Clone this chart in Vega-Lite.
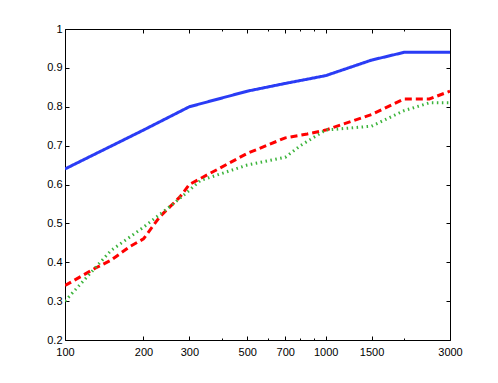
{
  "$schema": "https://vega.github.io/schema/vega-lite/v6.json",
  "width": 385,
  "height": 311,
  "autosize": "none",
  "padding": {"left": 65, "top": 29, "right": 48, "bottom": 43},
  "background": "white",
  "config": {"view": {"stroke": null}, "font": "Liberation Sans"},
  "data": {"values": [
    {"x": 100, "y": 0.64, "s": "A"}, {"x": 200, "y": 0.74, "s": "A"}, {"x": 300, "y": 0.80, "s": "A"},
    {"x": 500, "y": 0.84, "s": "A"}, {"x": 700, "y": 0.86, "s": "A"}, {"x": 1000, "y": 0.88, "s": "A"},
    {"x": 1500, "y": 0.92, "s": "A"}, {"x": 2000, "y": 0.94, "s": "A"}, {"x": 3000, "y": 0.94, "s": "A"},
    {"x": 100, "y": 0.34, "s": "B"}, {"x": 130, "y": 0.384, "s": "B"}, {"x": 150, "y": 0.405, "s": "B"},
    {"x": 177, "y": 0.44, "s": "B"}, {"x": 200, "y": 0.46, "s": "B"}, {"x": 231, "y": 0.517, "s": "B"},
    {"x": 276, "y": 0.568, "s": "B"}, {"x": 300, "y": 0.60, "s": "B"}, {"x": 500, "y": 0.68, "s": "B"},
    {"x": 700, "y": 0.72, "s": "B"}, {"x": 850, "y": 0.73, "s": "B"}, {"x": 1000, "y": 0.74, "s": "B"},
    {"x": 1500, "y": 0.78, "s": "B"}, {"x": 2000, "y": 0.82, "s": "B"}, {"x": 2500, "y": 0.82, "s": "B"},
    {"x": 3000, "y": 0.84, "s": "B"},
    {"x": 100, "y": 0.30, "s": "C"}, {"x": 150, "y": 0.43, "s": "C"}, {"x": 200, "y": 0.49, "s": "C"},
    {"x": 260, "y": 0.55, "s": "C"}, {"x": 300, "y": 0.585, "s": "C"}, {"x": 330, "y": 0.61, "s": "C"},
    {"x": 500, "y": 0.65, "s": "C"}, {"x": 700, "y": 0.67, "s": "C"}, {"x": 800, "y": 0.70, "s": "C"},
    {"x": 1000, "y": 0.74, "s": "C"}, {"x": 1500, "y": 0.75, "s": "C"}, {"x": 2000, "y": 0.79, "s": "C"},
    {"x": 2500, "y": 0.81, "s": "C"}, {"x": 3000, "y": 0.81, "s": "C"}
  ]},
  "resolve": {"axis": {"x": "independent", "y": "independent"}},
  "layer": [
    {
      "mark": {"type": "line", "clip": true},
      "encoding": {
        "x": {"field": "x", "type": "quantitative",
          "scale": {"type": "log", "domain": [100, 3000], "nice": false},
          "axis": {"orient": "bottom", "title": null, "grid": false,
            "values": [100, 200, 300, 400, 500, 600, 700, 800, 900, 1000, 1500, 2000, 3000],
            "labelExpr": "indexof([100,200,300,500,700,1000,1500,3000], datum.value) >= 0 ? datum.value : ''",
            "tickSize": {"condition": {"test": "indexof([100,200,300,500,700,1000,1500,3000], datum.value) >= 0", "value": -4}, "value": -2},
            "labelPadding": 10, "labelFontSize": 11, "labelColor": "black", "tickColor": "black",
            "domainColor": "black", "labelFlush": false, "labelOverlap": false}},
        "y": {"field": "y", "type": "quantitative",
          "scale": {"domain": [0.2, 1], "nice": false, "zero": false},
          "axis": {"orient": "left", "title": null, "grid": false,
            "values": [0.2, 0.3, 0.4, 0.5, 0.6, 0.7, 0.8, 0.9, 1], "format": ".1~f",
            "tickSize": -4, "labelPadding": 7, "labelFontSize": 11, "labelColor": "black",
            "tickColor": "black", "domainColor": "black", "labelFlush": false}},
        "color": {"field": "s", "type": "nominal", "legend": null,
          "scale": {"domain": ["A", "B", "C"], "range": ["#2a3cf5", "#ff0000", "#3cb43c"]}},
        "strokeDash": {"field": "s", "type": "nominal", "legend": null,
          "scale": {"domain": ["A", "B", "C"], "range": [[1, 0], [7, 4], [1.5, 3.5]]}},
        "strokeWidth": {"field": "s", "type": "nominal", "legend": null,
          "scale": {"domain": ["A", "B", "C"], "range": [3, 3, 2]}}
      }
    },
    {
      "mark": {"type": "line", "opacity": 0},
      "encoding": {
        "x": {"field": "x", "type": "quantitative",
          "scale": {"type": "log", "domain": [100, 3000], "nice": false},
          "axis": {"orient": "top", "title": null, "grid": false, "labels": false,
            "values": [100, 200, 300, 400, 500, 600, 700, 800, 900, 1000, 1500, 2000, 3000],
            "tickSize": {"condition": {"test": "indexof([100,200,300,500,700,1000,1500,3000], datum.value) >= 0", "value": -4}, "value": -2},
            "tickColor": "black", "domainColor": "black"}},
        "y": {"field": "y", "type": "quantitative",
          "scale": {"domain": [0.2, 1], "nice": false, "zero": false},
          "axis": {"orient": "right", "title": null, "grid": false, "labels": false,
            "values": [0.2, 0.3, 0.4, 0.5, 0.6, 0.7, 0.8, 0.9, 1],
            "tickSize": -4, "tickColor": "black", "domainColor": "black"}}
      }
    }
  ]
}
